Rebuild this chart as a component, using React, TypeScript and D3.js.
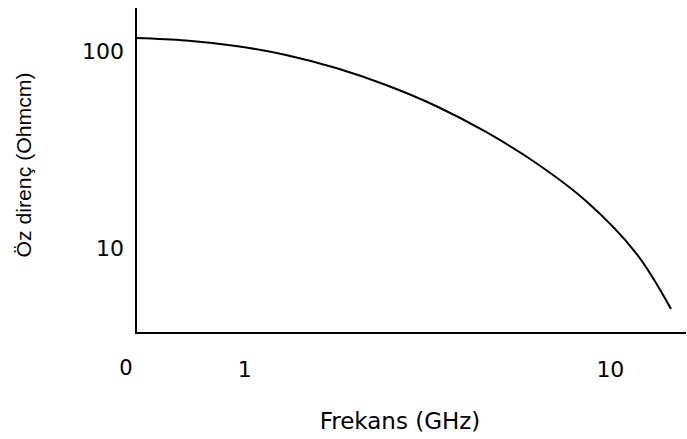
import React from "react";
import * as d3 from "d3";

const freqGHz = [0.504, 0.6905, 0.946, 1.296, 1.777, 2.434, 3.334, 4.569, 6.26, 8.578, 11.75, 14.65];
const resistivity = [116.2, 112.9, 105.9, 95.3, 81.8, 67.1, 52.5, 38.75, 26.97, 17.3, 9.42, 4.9];
const yTicks = [100, 10];
const yTickLabels = ["100", "10"];
const xTicks = [1, 10];
const xTickLabels = ["1", "10"];
const xOriginLabel = "0";
const xTitle = "Frekans (GHz)";
const yTitle = "Öz direnç (Ohmcm)";

const W = 687;
const H = 439;
const left = 136;
const right = 686;
const top = 8;
const bottom = 333;

export default function App() {
  const x = d3.scaleLog().domain([0.504, 16.1]).range([left, right]);
  const y = d3.scaleLog().domain([3.7, 165]).range([bottom, top]);
  const pts: [number, number][] = freqGHz.map((f, i) => [f, resistivity[i]]);
  const line = d3
    .line<[number, number]>()
    .x((d) => x(d[0]))
    .y((d) => y(d[1]))
    .curve(d3.curveCatmullRom.alpha(0.5));
  const font = "'DejaVu Sans', Verdana, sans-serif";
  return (
    <svg
      width={W}
      height={H}
      style={{ position: "absolute", left: 0, top: 0, background: "#fff" }}
    >
      <rect x={0} y={0} width={W} height={H} fill="#fff" />
      <line x1={left} x2={left} y1={top} y2={bottom} stroke="#000" strokeWidth={2} />
      <line x1={left - 1} x2={right} y1={bottom} y2={bottom} stroke="#000" strokeWidth={2} />
      <path d={line(pts) || ""} fill="none" stroke="#000" strokeWidth={2} />
      {yTicks.map((t, i) => (
        <text
          key={"y" + t}
          x={124}
          y={y(t) + 8}
          textAnchor="end"
          fontFamily={font}
          fontSize={22}
          fill="#000"
        >
          {yTickLabels[i]}
        </text>
      ))}
      {xTicks.map((t, i) => (
        <text
          key={"x" + t}
          x={x(t)}
          y={377}
          textAnchor="middle"
          fontFamily={font}
          fontSize={22}
          fill="#000"
        >
          {xTickLabels[i]}
        </text>
      ))}
      <text
        x={x.range()[0] - 10}
        y={375}
        textAnchor="middle"
        fontFamily={font}
        fontSize={21}
        fill="#000"
      >
        {xOriginLabel}
      </text>
      <text
        x={400}
        y={429}
        textAnchor="middle"
        fontFamily={font}
        fontSize={23}
        fill="#000"
      >
        {xTitle}
      </text>
      <text
        transform="translate(31,165) rotate(-90)"
        textAnchor="middle"
        fontFamily="'Liberation Sans', Arial, sans-serif"
        fontSize={21}
        textLength={185}
        lengthAdjust="spacingAndGlyphs"
        fill="#000"
      >
        {yTitle}
      </text>
    </svg>
  );
}
